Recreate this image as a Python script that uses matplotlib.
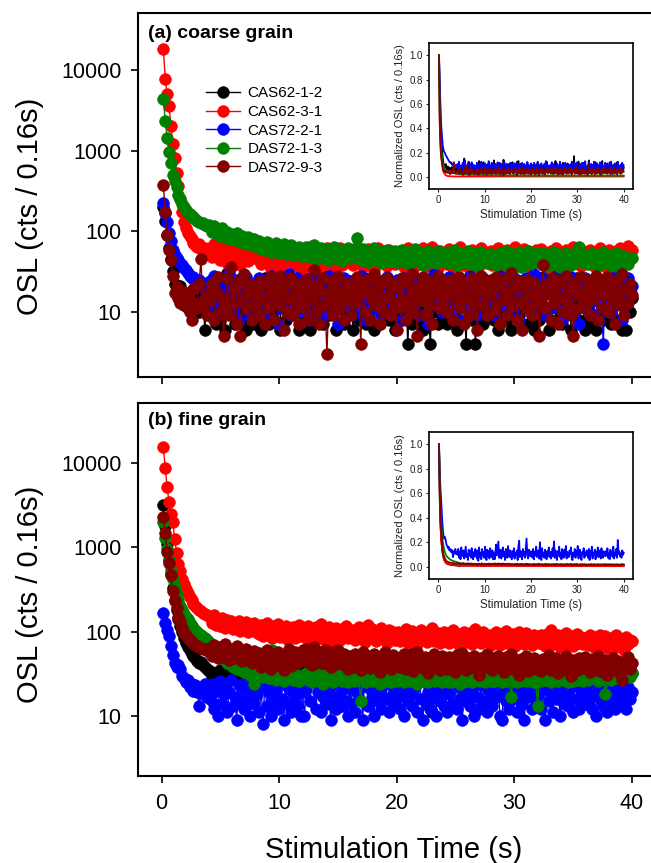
import numpy as np
import matplotlib
matplotlib.use("Agg")
import matplotlib.pyplot as plt

plt.rcParams['font.family'] = ['Liberation Sans', 'DejaVu Sans']

# ==========================
# DATA
# ==========================
channel_width = 0.16  # seconds per channel

sample_names = ["CAS62-1-2", "CAS62-3-1", "CAS72-2-1", "DAS72-1-3", "DAS72-9-3"]
sample_colors = ["black", "red", "blue", "green", "#800000"]

x_ticks = [0, 10, 20, 30, 40]
y_ticks = [10, 100, 1000, 10000]
y_tick_labels = ["10", "100", "1000", "10000"]
inset_y_ticks = [0.0, 0.2, 0.4, 0.6, 0.8, 1.0]

# (a) coarse grain, counts per 0.16 s channel
coarse_cas62_1_2 = [
    200, 135, 90, 62, 45, 32, 22, 19, 16, 21, 14, 12, 17, 11, 15, 13, 9, 16, 12, 10, 14, 18, 6, 13, 11,
    15, 9, 22, 7, 14, 8, 17, 11, 6, 30, 10, 16, 12, 7, 14, 25, 11, 8, 15, 6, 21, 10, 12, 7, 18,
    11, 16, 6, 13, 26, 9, 7, 15, 10, 20, 24, 11, 6, 17, 12, 8, 13, 22, 9, 19, 10, 14, 6, 12, 27,
    8, 13, 18, 6, 14, 10, 23, 8, 12, 20, 7, 15, 28, 9, 17, 10, 12, 6, 21, 11, 19, 7, 9, 15, 24,
    10, 6, 16, 14, 8, 18, 11, 26, 7, 15, 12, 22, 6, 14, 11, 7, 19, 12, 9, 24, 8, 11, 17, 6, 13,
    12, 9, 20, 11, 18, 4, 13, 7, 24, 14, 8, 12, 20, 6, 13, 15, 9, 4, 17, 10, 25, 7, 11, 16, 8,
    14, 7, 21, 18, 9, 12, 6, 26, 7, 16, 13, 4, 19, 12, 8, 11, 4, 23, 9, 13, 7, 17, 10, 22, 11,
    16, 8, 13, 6, 21, 10, 14, 34, 8, 15, 6, 18, 10, 25, 9, 16, 7, 14, 12, 7, 23, 10, 6, 15, 11,
    8, 15, 27, 9, 11, 6, 20, 16, 12, 8, 14, 24, 7, 13, 9, 19, 12, 6, 17, 11, 26, 8, 13, 16, 6,
    13, 7, 22, 9, 14, 6, 16, 25, 10, 8, 15, 11, 18, 7, 12, 24, 8, 13, 16, 6, 12, 6, 20, 10, 15,
]
coarse_cas62_3_1 = [
    18000, 7800, 5000, 3600, 2000, 1200, 800, 520, 360, 250, 175, 130, 110, 95, 86, 80, 72, 68, 64, 70, 60, 58, 62, 55, 52,
    62, 48, 70, 52, 58, 44, 66, 50, 55, 40, 63, 47, 57, 42, 60, 49, 38, 56, 45, 61, 43, 52, 65, 46, 54,
    47, 58, 39, 53, 64, 42, 50, 34, 56, 45, 61, 40, 52, 36, 59, 44, 49, 63, 41, 55, 38, 57, 46, 33, 51,
    44, 60, 37, 52, 66, 41, 48, 35, 58, 43, 54, 39, 62, 45, 50, 34, 56, 42, 47, 61, 38, 53, 44, 59, 40,
    55, 38, 49, 63, 42, 57, 36, 51, 45, 60, 40, 54, 33, 48, 62, 41, 56, 44, 50, 37, 58, 43, 52, 39, 47,
    41, 57, 44, 36, 53, 62, 40, 49, 34, 58, 46, 52, 39, 61, 43, 55, 37, 48, 64, 42, 51, 35, 56, 45, 50,
    53, 39, 60, 45, 35, 56, 42, 50, 63, 38, 54, 44, 48, 33, 59, 41, 52, 46, 37, 62, 43, 55, 40, 49, 57,
    38, 52, 46, 61, 40, 55, 34, 49, 58, 43, 50, 37, 64, 45, 53, 39, 47, 60, 42, 56, 36, 51, 44, 59, 48,
    45, 60, 39, 53, 47, 34, 57, 43, 50, 62, 38, 55, 46, 41, 58, 36, 52, 44, 63, 40, 49, 54, 37, 56, 42,
    50, 41, 58, 46, 37, 55, 44, 61, 39, 52, 47, 35, 59, 43, 54, 40, 57, 48, 62, 45, 51, 42, 66, 53, 58,
]
coarse_cas72_2_1 = [
    225, 168, 130, 94, 75, 58, 50, 46, 44, 40, 38, 35, 33, 30, 28, 26, 27, 24, 22, 25, 20, 23, 19, 21, 18,
    24, 12, 28, 16, 9, 21, 14, 26, 11, 18, 30, 10, 20, 15, 25, 8, 17, 23, 12, 27, 14, 9, 22, 16, 19,
    13, 26, 10, 19, 24, 8, 17, 28, 12, 21, 15, 7, 25, 18, 11, 23, 14, 29, 9, 20, 16, 26, 12, 18, 22,
    10, 24, 17, 8, 27, 14, 20, 11, 25, 16, 9, 22, 13, 28, 18, 10, 24, 15, 7, 21, 17, 26, 12, 19, 23,
    15, 9, 25, 18, 12, 28, 14, 21, 8, 23, 17, 11, 26, 19, 13, 24, 9, 20, 16, 27, 11, 22, 14, 18, 25,
    12, 20, 8, 26, 16, 23, 11, 19, 28, 13, 22, 9, 17, 25, 14, 20, 7, 24, 15, 29, 12, 18, 21, 10, 16,
    22, 14, 27, 10, 19, 24, 12, 17, 8, 25, 15, 21, 11, 28, 18, 13, 23, 9, 20, 16, 26, 11, 19, 14, 24,
    17, 9, 23, 14, 28, 12, 20, 16, 25, 10, 19, 27, 13, 21, 8, 24, 15, 18, 26, 11, 22, 14, 29, 17, 12,
    20, 13, 26, 9, 18, 24, 11, 22, 15, 28, 12, 19, 8, 25, 16, 21, 13, 27, 10, 23, 17, 7, 20, 14, 26,
    11, 24, 16, 21, 9, 27, 14, 19, 12, 4, 22, 15, 25, 10, 18, 13, 28, 16, 20, 8, 23, 12, 26, 17, 21,
]
coarse_das72_1_3 = [
    4400, 2300, 1450, 950, 700, 500, 420, 350, 280, 250, 220, 200, 185, 170, 165, 155, 150, 140, 135, 130, 125, 128, 120, 115, 118,
    112, 98, 115, 94, 105, 88, 108, 92, 85, 99, 80, 93, 86, 78, 95, 82, 74, 88, 79, 70, 84, 76, 68, 80, 72,
    64, 76, 60, 70, 58, 73, 62, 55, 68, 59, 72, 53, 65, 57, 70, 52, 63, 58, 67, 50, 61, 55, 64, 49, 60,
    56, 64, 48, 59, 53, 67, 45, 58, 51, 62, 47, 55, 60, 44, 57, 50, 63, 46, 54, 59, 43, 56, 49, 61, 52,
    47, 58, 51, 82, 55, 44, 60, 49, 53, 42, 57, 48, 62, 45, 51, 56, 40, 54, 47, 59, 43, 52, 46, 57, 41,
    53, 45, 58, 42, 50, 55, 39, 52, 47, 60, 44, 49, 54, 38, 51, 46, 57, 41, 48, 53, 40, 56, 45, 50, 43,
    49, 55, 40, 52, 46, 58, 38, 50, 44, 54, 41, 47, 57, 39, 51, 45, 53, 37, 48, 55, 42, 50, 46, 40, 52,
    44, 51, 38, 49, 54, 41, 47, 56, 37, 50, 43, 52, 40, 48, 55, 36, 46, 51, 42, 57, 39, 49, 44, 53, 41,
    48, 40, 53, 45, 37, 50, 43, 55, 39, 47, 52, 36, 49, 44, 54, 41, 46, 38, 51, 43, 56, 63, 42, 48, 40,
    50, 39, 46, 53, 41, 48, 37, 52, 44, 55, 40, 47, 51, 38, 49, 43, 54, 36, 46, 50, 42, 48, 39, 45, 47,
]
coarse_das72_9_3 = [
    372, 174, 89, 58, 44, 28, 17, 20, 15, 13, 18, 12, 16, 14, 10, 8, 19, 13, 11, 22, 45, 12, 15, 9, 17,
    14, 22, 8, 18, 27, 10, 15, 5, 12, 26, 9, 36, 13, 19, 7, 24, 5, 14, 29, 11, 17, 22, 8, 20, 12,
    18, 9, 24, 14, 7, 21, 11, 27, 16, 8, 20, 12, 28, 17, 6, 23, 10, 15, 26, 9, 19, 13, 7, 22, 16,
    11, 25, 8, 19, 14, 33, 10, 21, 7, 18, 26, 12, 3, 16, 24, 9, 20, 13, 28, 11, 17, 8, 23, 14, 19,
    9, 22, 13, 27, 17, 4, 21, 10, 18, 25, 8, 15, 29, 12, 20, 7, 24, 14, 10, 26, 16, 9, 22, 13, 6,
    20, 11, 26, 15, 8, 23, 13, 29, 10, 18, 5, 21, 14, 27, 9, 17, 24, 12, 7, 22, 16, 28, 11, 19, 13,
    24, 10, 17, 25, 8, 21, 14, 27, 11, 19, 7, 23, 15, 9, 26, 13, 20, 6, 18, 28, 12, 22, 9, 16, 25,
    10, 19, 27, 13, 7, 22, 15, 26, 9, 17, 30, 12, 20, 8, 24, 14, 6, 21, 11, 25, 16, 9, 23, 13, 19,
    5, 14, 38, 11, 22, 17, 8, 26, 13, 20, 7, 24, 15, 10, 28, 12, 19, 9, 5, 23, 16, 11, 27, 14, 18,
    12, 25, 9, 20, 15, 28, 8, 18, 23, 11, 16, 27, 10, 21, 14, 7, 24, 17, 12, 29, 9, 19, 13, 22, 16,
]

# (b) fine grain, counts per 0.16 s channel
fine_cas62_1_2 = [
    3150, 1800, 1100, 700, 480, 330, 240, 180, 140, 115, 98, 84, 74, 66, 60, 55, 52, 48, 45, 42, 44, 40, 38, 36, 34,
    34, 30, 14, 32, 29, 35, 31, 28, 36, 30, 33, 29, 37, 31, 34, 28, 35, 32, 30, 36, 33, 29, 35, 31, 34,
    27, 30, 26, 29, 28, 31, 27, 30, 26, 32, 29, 28, 31, 27, 33, 30, 28, 32, 29, 31, 27, 30, 33, 29, 31,
    30, 34, 28, 32, 31, 29, 35, 30, 33, 28, 32, 30, 34, 29, 31, 33, 28, 32, 30, 35, 29, 31, 33, 30, 32,
    31, 34, 29, 33, 30, 36, 31, 32, 29, 34, 31, 33, 30, 35, 32, 29, 34, 31, 33, 30, 36, 32, 31, 34, 30,
    33, 30, 35, 31, 34, 32, 29, 36, 58, 31, 33, 30, 35, 32, 34, 29, 33, 31, 11, 35, 32, 30, 34, 31, 33,
    32, 35, 30, 34, 31, 33, 29, 36, 32, 30, 34, 31, 33, 35, 30, 32, 34, 31, 29, 35, 32, 33, 30, 34, 31,
    33, 30, 35, 32, 34, 31, 29, 36, 33, 31, 34, 30, 32, 35, 31, 33, 30, 34, 32, 29, 35, 31, 33, 30, 34,
    31, 34, 32, 30, 35, 33, 31, 34, 29, 32, 36, 30, 33, 31, 35, 32, 34, 30, 33, 31, 29, 35, 32, 34, 31,
    33, 30, 45, 32, 35, 31, 34, 33, 30, 36, 32, 31, 34, 30, 35, 33, 31, 34, 32, 30, 36, 33, 31, 34, 32,
]
fine_cas62_3_1 = [
    15500, 8600, 5200, 3400, 2500, 2000, 1250, 860, 640, 520, 420, 370, 320, 290, 260, 235, 210, 200, 190, 182, 175, 168, 162, 158, 152,
    150, 128, 158, 120, 140, 115, 146, 124, 110, 138, 118, 132, 106, 128, 112, 135, 102, 122, 116, 130, 98, 119, 108, 125, 100,
    112, 94, 120, 88, 105, 126, 92, 110, 84, 116, 98, 122, 86, 104, 95, 118, 82, 108, 91, 114, 85, 102, 120, 89, 98,
    106, 84, 118, 92, 100, 80, 112, 88, 96, 124, 82, 104, 90, 114, 78, 98, 86, 110, 92, 80, 108, 94, 116, 83, 100,
    88, 104, 80, 96, 112, 85, 100, 76, 94, 121, 84, 106, 90, 78, 102, 88, 110, 82, 96, 74, 104, 86, 98, 80, 92,
    100, 78, 94, 86, 108, 74, 90, 102, 82, 96, 72, 88, 104, 80, 92, 76, 100, 84, 110, 78, 90, 96, 73, 86, 98,
    82, 96, 74, 90, 104, 78, 86, 70, 94, 82, 100, 76, 88, 96, 72, 84, 106, 80, 90, 74, 98, 78, 86, 92, 70,
    88, 76, 98, 80, 70, 92, 84, 102, 74, 86, 78, 94, 68, 82, 100, 76, 88, 72, 96, 80, 84, 70, 92, 78, 86,
    74, 90, 80, 68, 94, 78, 105, 72, 86, 76, 92, 66, 84, 78, 96, 70, 82, 88, 68, 80, 94, 74, 86, 72, 80,
    84, 70, 90, 76, 66, 86, 74, 92, 68, 80, 88, 64, 78, 84, 62, 76, 90, 70, 82, 74, 60, 86, 72, 80, 78,
]
fine_cas72_2_1 = [
    165, 127, 105, 88, 68, 53, 42, 38, 40, 36, 30, 28, 25, 27, 22, 24, 20, 23, 19, 13, 21, 18, 24, 17, 20,
    16, 24, 12, 20, 10, 26, 14, 18, 22, 11, 19, 27, 13, 17, 9, 23, 15, 21, 12, 25, 16, 10, 20, 14, 24,
    18, 11, 22, 8, 26, 13, 19, 10, 24, 15, 20, 12, 27, 16, 9, 23, 14, 21, 11, 25, 17, 13, 22, 10, 19,
    10, 21, 30, 15, 25, 34, 12, 19, 23, 11, 17, 26, 14, 20, 9, 24, 16, 12, 28, 18, 13, 22, 15, 10, 21,
    14, 25, 11, 19, 16, 22, 9, 27, 35, 13, 21, 17, 10, 24, 15, 20, 12, 26, 38, 16, 11, 23, 18, 14, 21,
    17, 12, 24, 10, 20, 15, 27, 13, 18, 22, 11, 33, 16, 9, 25, 14, 19, 12, 23, 17, 10, 21, 15, 26, 13,
    20, 11, 18, 25, 14, 34, 12, 22, 16, 9, 21, 15, 27, 13, 19, 10, 24, 17, 12, 23, 15, 28, 11, 20, 16,
    13, 22, 17, 26, 10, 9, 19, 15, 24, 12, 21, 16, 28, 11, 18, 23, 14, 9, 20, 17, 25, 12, 19, 15, 22,
    18, 12, 24, 9, 21, 15, 27, 11, 19, 16, 23, 10, 20, 14, 26, 13, 17, 22, 11, 25, 16, 12, 21, 18, 14,
    21, 15, 25, 12, 18, 10, 23, 16, 20, 13, 27, 11, 19, 15, 24, 12, 36, 17, 21, 14, 18, 12, 22, 16, 19,
]
fine_das72_1_3 = [
    2000, 1300, 950, 700, 540, 420, 340, 280, 235, 200, 180, 160, 150, 140, 128, 118, 110, 104, 98, 94, 90, 87, 84, 80, 76,
    72, 68, 64, 58, 57, 53, 50, 48, 46, 42, 44, 40, 38, 41, 36, 39, 35, 37, 33, 36, 34, 31, 35, 24, 32,
    34, 30, 33, 29, 32, 35, 28, 31, 60, 30, 27, 33, 29, 31, 26, 32, 28, 30, 34, 27, 29, 31, 26, 30, 28,
    29, 32, 27, 30, 25, 31, 28, 33, 26, 29, 24, 30, 27, 32, 28, 25, 30, 27, 29, 31, 26, 28, 30, 25, 29,
    27, 30, 26, 29, 28, 15, 31, 27, 25, 30, 28, 26, 32, 27, 29, 24, 28, 31, 26, 29, 27, 25, 30, 28, 26,
    29, 27, 31, 25, 28, 30, 26, 29, 27, 32, 24, 28, 30, 26, 29, 27, 25, 31, 28, 26, 30, 27, 29, 25, 28,
    27, 30, 25, 29, 26, 28, 31, 27, 24, 29, 27, 30, 26, 28, 25, 31, 27, 29, 26, 28, 30, 25, 27, 29, 26,
    28, 26, 30, 27, 29, 25, 28, 31, 26, 29, 17, 27, 30, 25, 28, 26, 29, 27, 31, 26, 28, 30, 25, 29, 13,
    29, 26, 31, 27, 28, 30, 25, 29, 27, 32, 26, 28, 30, 27, 29, 25, 31, 28, 26, 30, 27, 29, 32, 26, 28,
    30, 27, 29, 32, 28, 31, 26, 30, 28, 33, 18, 29, 31, 27, 30, 34, 28, 32, 29, 31, 35, 30, 33, 29, 32,
]
fine_das72_9_3 = [
    2300, 1460, 880, 650, 470, 300, 230, 190, 150, 130, 110, 97, 90, 85, 80, 76, 74, 70, 68, 66, 64, 62, 63, 61, 58,
    64, 52, 70, 55, 48, 66, 58, 50, 72, 54, 46, 62, 56, 49, 68, 51, 60, 45, 57, 63, 47, 55, 42, 59, 50,
    44, 56, 38, 52, 47, 60, 41, 36, 54, 46, 40, 58, 43, 50, 35, 55, 45, 62, 39, 48, 57, 42, 52, 46, 60,
    48, 62, 44, 56, 40, 65, 50, 46, 58, 42, 54, 61, 45, 52, 38, 57, 49, 43, 60, 47, 41, 55, 48, 36, 51,
    45, 38, 54, 42, 49, 35, 57, 44, 40, 52, 37, 48, 55, 41, 46, 33, 50, 43, 58, 39, 47, 36, 53, 44, 40,
    48, 38, 44, 55, 36, 47, 41, 52, 34, 46, 58, 40, 43, 37, 50, 45, 32, 49, 42, 54, 38, 46, 35, 51, 41,
    44, 36, 50, 40, 47, 33, 53, 42, 38, 56, 41, 35, 48, 44, 39, 52, 37, 45, 31, 49, 43, 38, 54, 40, 46,
    35, 48, 41, 52, 37, 44, 33, 50, 42, 39, 55, 36, 46, 40, 31, 47, 43, 38, 51, 34, 45, 41, 49, 36, 44,
    40, 34, 47, 42, 37, 53, 35, 44, 39, 49, 32, 45, 41, 36, 51, 38, 43, 30, 46, 40, 35, 48, 42, 37, 50,
    38, 44, 33, 47, 40, 36, 51, 34, 42, 39, 46, 31, 43, 37, 48, 35, 41, 45, 32, 27, 44, 38, 50, 36, 42,
]

coarse_curves = [coarse_cas62_1_2, coarse_cas62_3_1, coarse_cas72_2_1, coarse_das72_1_3, coarse_das72_9_3]
fine_curves = [fine_cas62_1_2, fine_cas62_3_1, fine_cas72_2_1, fine_das72_1_3, fine_das72_9_3]

# ==========================
# FIGURE
# ==========================
W, H = 651, 863
fig = plt.figure(figsize=(W / 100, H / 100), dpi=100)


def px_rect(left, top, right, bottom):
    return [left / W, 1 - bottom / H, (right - left) / W, (bottom - top) / H]


panels = [
    dict(curves=coarse_curves, rect=px_rect(138, 13, 655, 377), ylim=(1.55, 51000),
         tag="(a) coarse grain", tag_y=33, label_y=206, inset=px_rect(429, 43, 633, 189),
         legend=True, xlabels=False),
    dict(curves=fine_curves, rect=px_rect(138, 403, 655, 776), ylim=(1.94, 51400),
         tag="(b) fine grain", tag_y=420, label_y=594, inset=px_rect(429, 432, 633, 579),
         legend=False, xlabels=True),
]

for p in panels:
    ax = fig.add_axes(p["rect"])

    for name, counts, color in zip(sample_names, p["curves"], sample_colors):
        counts = np.array(counts, dtype=float)
        t = channel_width * np.arange(1, len(counts) + 1)
        ax.plot(t, counts, '-o', color=color, ms=8.5, mew=0.4, lw=1.0, label=name)

    ax.set_yscale('log')
    ax.set_xlim(-2, 42)
    ax.set_ylim(*p["ylim"])
    ax.set_xticks(x_ticks)
    ax.set_yticks(y_ticks)
    ax.set_yticklabels(y_tick_labels)
    ax.yaxis.set_minor_locator(matplotlib.ticker.NullLocator())

    for side in ['left', 'bottom', 'top', 'right']:
        ax.spines[side].set_linewidth(1.5)

    ax.tick_params(axis='both', direction='out', length=5, width=1.2,
                   labelsize=15.5, pad=7)
    ax.tick_params(axis='x', labelbottom=p["xlabels"])

    fig.text(148 / W, 1 - p["tag_y"] / H, p["tag"], fontsize=14,
             fontweight='bold', ha='left', va='center')

    fig.text(30 / W, 1 - p["label_y"] / H, "OSL (cts / 0.16s)", rotation=90,
             fontsize=21, ha='center', va='center')

    if p["legend"]:
        ax.legend(loc='upper left', bbox_to_anchor=(0.12, 0.815), frameon=False,
                  fontsize=11, handlelength=2.2, handletextpad=0.5,
                  labelspacing=0.3, borderaxespad=0)

    # ---- inset: normalised decay ----
    ins = fig.add_axes(p["inset"])
    for counts, color in zip(p["curves"], sample_colors):
        counts = np.array(counts, dtype=float)
        t = channel_width * np.arange(1, len(counts) + 1)
        ins.plot(t, counts / counts[0], color=color, lw=1.3)

    ins.set_xlim(-2, 42)
    ins.set_ylim(-0.1, 1.1)
    ins.set_xticks(x_ticks)
    ins.set_yticks(inset_y_ticks)
    ins.set_yticklabels([f"{v:.1f}" for v in inset_y_ticks])
    for side in ins.spines:
        ins.spines[side].set_linewidth(1.2)
    ins.tick_params(axis='both', direction='out', length=2.5, width=0.8,
                    labelsize=7, pad=2, colors='#222222')
    ins.set_xlabel("Stimulation Time (s)", fontsize=8.3, labelpad=3, color='#222222')
    ins.set_ylabel("Normalized OSL (cts / 0.16s)", fontsize=8, labelpad=3, color='#222222')

fig.text(394 / W, 1 - 850 / H, "Stimulation Time (s)", fontsize=21,
         ha='center', va='center')

fig.savefig("out.png", dpi=100)
